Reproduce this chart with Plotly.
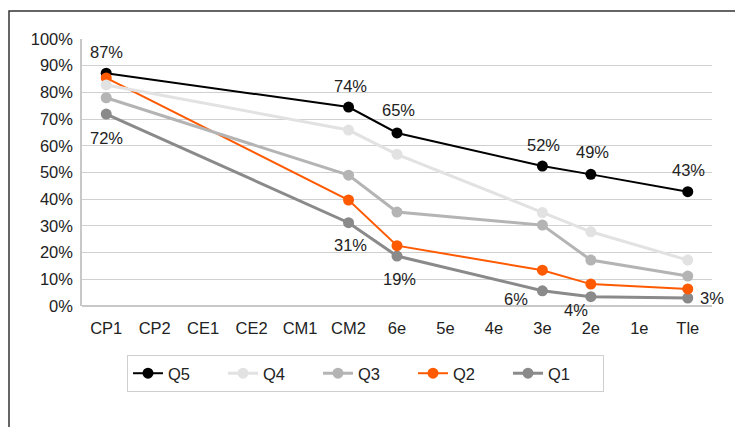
import plotly.graph_objects as go

categories = ["CP1", "CP2", "CE1", "CE2", "CM1", "CM2", "6e", "5e", "4e", "3e", "2e", "1e", "Tle"]
x_points = ["CP1", "CM2", "6e", "3e", "2e", "Tle"]

q5 = [0.872, 0.745, 0.648, 0.524, 0.493, 0.428]
q4 = [0.828, 0.659, 0.568, 0.350, 0.278, 0.172]
q3 = [0.780, 0.490, 0.352, 0.303, 0.172, 0.112]
q2 = [0.854, 0.397, 0.226, 0.134, 0.082, 0.064]
q1 = [0.719, 0.312, 0.187, 0.057, 0.035, 0.030]

# label offsets in pixels (dx, dy) for the data labels of Q5 and Q1
q5_label_shift = [(0, 21), (2, 21), (1, 23), (1, 21), (2, 22), (1, 22)]
q1_label_shift = [(0, -24), (2, -22), (2, -23), (-26, -8), (-15, -13), (24, 0)]

FONT = "Liberation Sans, Arial, Helvetica, sans-serif"
FS = 16.5

def pct(v):
    return f"{round(v * 100)}%"

series = [
    # name, values, color, width, legend rank
    ("Q5", q5, "#000000", 2, 1),
    ("Q1", q1, "#8a8a8a", 3, 5),
    ("Q2", q2, "#ff5a00", 2, 4),
    ("Q3", q3, "#b4b4b4", 3, 3),
    ("Q4", q4, "#e2e2e2", 3, 2),
]

fig = go.Figure()
for name, vals, color, w, rank in series:
    fig.add_trace(go.Scatter(
        x=x_points, y=vals, name=name, legendrank=rank,
        mode="lines+markers",
        line=dict(color=color, width=w),
        marker=dict(color=color, size=11),
        cliponaxis=False,
    ))

annotations = []
for vals, shifts in ((q5, q5_label_shift), (q1, q1_label_shift)):
    for xc, v, (dx, dy) in zip(x_points, vals, shifts):
        annotations.append(dict(
            x=xc, y=v, xref="x", yref="y", text=pct(v), showarrow=False,
            xshift=dx, yshift=dy, xanchor="center", yanchor="middle",
            font=dict(family=FONT, size=FS, color="#222222"),
        ))

W, H = 735, 427
L, R, T, B = 82, 23, 39, 121
pw, ph = W - L - R, H - T - B

fig.update_layout(
    width=W, height=H,
    margin=dict(l=L, r=R, t=T, b=B),
    paper_bgcolor="white", plot_bgcolor="white",
    font=dict(family=FONT, size=FS, color="#222222"),
    showlegend=True,
    annotations=annotations,
    legend=dict(
        orientation="h", x=(127 - L) / pw, y=-(355 - (T + ph)) / ph,
        xanchor="left", yanchor="top",
        bordercolor="#cfcfcf", borderwidth=1,
        font=dict(family=FONT, size=FS, color="#222222"),
        entrywidth=50, entrywidthmode="pixels",
        traceorder="normal",
    ),
    xaxis=dict(
        type="category", categoryorder="array", categoryarray=categories,
        tickvals=categories, range=[-0.5, 12.5],
        showgrid=False, showline=False, zeroline=False, ticks="",
        ticklabelstandoff=10,
        tickfont=dict(family=FONT, size=FS, color="#222222"),
    ),
    yaxis=dict(
        range=[0, 1], tickvals=[i / 10 for i in range(11)], tickformat=".0%",
        showgrid=True, gridcolor="#d0d0d0", gridwidth=1,
        showline=True, linecolor="#c8c8c8", linewidth=1.5,
        zeroline=True, zerolinecolor="#c8c8c8", zerolinewidth=1.5,
        ticks="", ticklabelstandoff=4,
        tickfont=dict(family=FONT, size=FS, color="#222222"),
    ),
    shapes=[dict(
        type="rect", xref="paper", yref="paper",
        x0=(9 - L) / pw, x1=(W + 10 - L) / pw,
        y0=-(H + 10 - (T + ph)) / ph, y1=((T + ph) - 11) / ph,
        line=dict(color="#333333", width=1.5), layer="below",
    )],
)

fig.write_html(
    "out.html",
    config={"displayModeBar": False},
    post_script="document.body.style.margin='0';document.body.style.overflow='hidden';",
)
